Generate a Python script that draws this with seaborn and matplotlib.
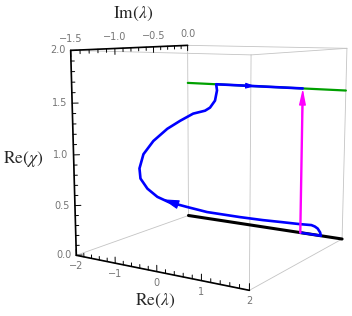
import numpy as np
import matplotlib
matplotlib.use("Agg")
import matplotlib.pyplot as plt
import seaborn as sns
from matplotlib.patches import ArrowStyle
from mpl_toolkits.mplot3d import proj3d

# ---------------- data ----------------
re_lim = [-2.0, 2.0]
im_lim = [-1.5, 0.0]
chi_lim = [0.0, 2.0]

re_ticks = [-2, -1, 0, 1, 2]
re_ticklabels = ["\u22122", "\u22121", "0", "1", "2"]
im_ticks = [-1.5, -1.0, -0.5, 0.0]
im_ticklabels = ["\u22121.5", "\u22121.0", "\u22120.5", "0.0"]
chi_ticks = [0.0, 0.5, 1.0, 1.5, 2.0]
chi_ticklabels = ["0.0", "0.5", "1.0", "1.5", "2.0"]

# black line: Im=0, chi=0
black_re = [-2.0, 2.0]
black_im = [0.0, 0.0]
black_chi = [0.0, 0.0]

# green line: Im=0, chi=pi/2
green_re = [-2.0, 2.0]
green_im = [0.0, 0.0]
green_chi = [1.57, 1.57]

# magenta arrow
magenta_re = [1.0, 1.0]
magenta_im = [0.0, 0.0]
magenta_chi = [0.0, 1.57]

# blue path
blue_re = [1.0, 1.25, 1.5, 1.48, 1.42, 1.35, 1.267, 1.042, 0.641, 0.222, -0.276,
           -0.982, -1.344, -1.638, -1.783, -1.875, -1.919, -1.860, -1.706, -1.477,
           -1.263, -1.149, -1.100, -1.031, -1.037, -1.073, -1.137, -1.21,
           -0.5, 0.3, 1.0]
blue_im = [0.0, 0.0, 0.0, 0.0, 0.0, 0.0, 0.0, -0.05, -0.08, -0.12, -0.18,
           -0.28, -0.38, -0.5, -0.58, -0.67, -0.74, -0.78, -0.8, -0.78,
           -0.7, -0.58, -0.42, -0.28, -0.2, -0.1, -0.03, 0.0,
           0.0, 0.0, 0.0]
blue_chi = [0.0, 0.0, 0.0, 0.036, 0.074, 0.092, 0.102, 0.112, 0.116, 0.122, 0.140,
            0.179, 0.240, 0.310, 0.378, 0.485, 0.609, 0.730, 0.893, 1.039,
            1.163, 1.235, 1.292, 1.309, 1.333, 1.399, 1.505, 1.57,
            1.57, 1.57, 1.57]

# arrow heads on blue path (tail, tip)
blue_arrow1 = [(-1.49, -0.44, 0.275), (-1.71, -0.54, 0.345)]
blue_arrow2 = [(-0.55, 0.0, 1.57), (-0.18, 0.0, 1.57)]

# ---------------- style ----------------
sns.set_theme(style="white")
plt.rcParams["font.family"] = ["DejaVu Sans"]
plt.rcParams["mathtext.fontset"] = "stix"

BLUE = "#0000ff"
GREEN = "#00a000"
MAGENTA = "#ff00ff"
GRID = "#c4c4c4"
TICKC = "#757575"

W, H = 352, 316
fig = plt.figure(figsize=(W / 100, H / 100), dpi=100)
cx, cy = 214, H - 150          # where the box centre should land (px)
side = 316
left = cx - 0.5135 * side
bottom = cy - 0.5135 * side
ax = fig.add_axes([left / W, bottom / H, side / W, side / H], projection="3d")
ax.set_axis_off()
ax.set_xlim(*re_lim)
ax.set_ylim(*im_lim)
ax.set_zlim(*chi_lim)
ax.set_box_aspect((1, 1, 1.02), zoom=1.05)
ax.view_init(elev=9, azim=-57.6)
ax.set_proj_type("persp", focal_length=0.474)

x0, x1 = re_lim
y0, y1 = im_lim
z0, z1 = chi_lim

# box edges (thin gray)
edges = [
    ((x0, x1), (y0, y0), (z0, z0)), ((x0, x1), (y1, y1), (z0, z0)),
    ((x0, x1), (y0, y0), (z1, z1)), ((x0, x1), (y1, y1), (z1, z1)),
    ((x0, x0), (y0, y1), (z0, z0)), ((x1, x1), (y0, y1), (z0, z0)),
    ((x0, x0), (y0, y1), (z1, z1)), ((x1, x1), (y0, y1), (z1, z1)),
    ((x0, x0), (y0, y0), (z0, z1)), ((x1, x1), (y0, y0), (z0, z1)),
    ((x0, x0), (y1, y1), (z0, z1)), ((x1, x1), (y1, y1), (z0, z1)),
]
for ex, ey, ez in edges:
    ax.plot(ex, ey, ez, color=GRID, lw=0.6, zorder=1)

# axis lines (black)
ax.plot([x0, x1], [y0, y0], [z0, z0], color="black", lw=1.2, zorder=2)
ax.plot([x0, x0], [y0, y1], [z1, z1], color="black", lw=1.2, zorder=2)
ax.plot([x0, x0], [y0, y0], [z0, z1], color="black", lw=1.2, zorder=2)

# ticks
for v in np.arange(-2.0, 2.001, 0.2):
    major = abs(v - round(v)) < 1e-6
    L = 0.06 if major else 0.035
    ax.plot([v, v], [y0, y0], [z0, z0 + L], color="black", lw=0.7)
for v in np.arange(-1.5, 0.001, 0.1):
    major = abs(v * 2 - round(v * 2)) < 1e-6
    L = 0.06 if major else 0.035
    ax.plot([x0, x0], [v, v], [z1, z1 - L], color="black", lw=0.7)
for v in np.arange(0.0, 2.001, 0.1):
    major = abs(v * 2 - round(v * 2)) < 1e-6
    s = 1.0 if major else 0.55
    ax.plot([x0, x0 + 0.085 * s], [y0, y0 + 0.03 * s], [v, v], color="black", lw=0.7)

# curves
ax.plot(black_re, black_im, black_chi, color="black", lw=2.2, zorder=5)
ax.plot(green_re, green_im, green_chi, color=GREEN, lw=1.6, zorder=5)
ax.plot(blue_re, blue_im, blue_chi, color=BLUE, lw=1.9, zorder=6,
        solid_joinstyle="round", solid_capstyle="round")

M = ax.get_proj()


def P(p):
    X, Y, _ = proj3d.proj_transform(p[0], p[1], p[2], M)
    return (X, Y)


def head(tail, tip, color, hl, hw, lw=0.8):
    ax.annotate("", xy=P(tip), xytext=P(tail), xycoords="data",
                annotation_clip=False, zorder=8,
                arrowprops=dict(arrowstyle=ArrowStyle("-|>", head_length=hl, head_width=hw),
                                color=color, lw=lw, shrinkA=0, shrinkB=0,
                                mutation_scale=10))


# magenta arrow (shaft + head)
ax.plot(magenta_re, magenta_im, [magenta_chi[0], magenta_chi[1] - 0.1],
        color=MAGENTA, lw=1.7, zorder=7)
head((magenta_re[1], magenta_im[1], magenta_chi[1] - 0.3),
     (magenta_re[1], magenta_im[1], magenta_chi[1]), MAGENTA, 0.95, 0.2, lw=1.0)

head(blue_arrow1[0], blue_arrow1[1], BLUE, 1.0, 0.28, lw=0.8)
head(blue_arrow2[0], blue_arrow2[1], BLUE, 0.55, 0.17, lw=0.8)

# tick labels
fs = 7
for v, s in zip(re_ticks, re_ticklabels):
    ax.annotate(s, P((v, y0, z0)), xytext=(0, -8), textcoords="offset points",
                ha="center", va="center", fontsize=fs, color=TICKC, annotation_clip=False)
for v, s in zip(im_ticks, im_ticklabels):
    ax.annotate(s, P((x0, v, z1)), xytext=(0, 8), textcoords="offset points",
                ha="center", va="center", fontsize=fs, color=TICKC, annotation_clip=False)
for v, s in zip(chi_ticks, chi_ticklabels):
    ax.annotate(s, P((x0, y0, v)), xytext=(-3.5, 0), textcoords="offset points",
                ha="right", va="center", fontsize=fs, color=TICKC, annotation_clip=False)

# axis labels
fig.text(133 / W, 1 - 14 / H, r"$\mathrm{Im}(\lambda)$", ha="center", va="center", fontsize=12.5)
fig.text(23 / W, 1 - 159 / H, r"$\mathrm{Re}(\chi)$", ha="center", va="center", fontsize=12.5)
fig.text(155 / W, 1 - 301 / H, r"$\mathrm{Re}(\lambda)$", ha="center", va="center", fontsize=12.5)

fig.savefig("out.png", dpi=100)
